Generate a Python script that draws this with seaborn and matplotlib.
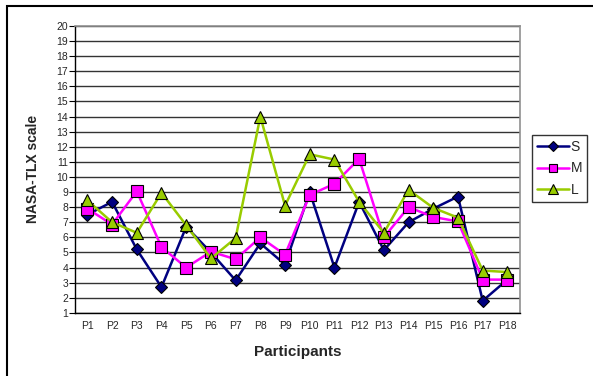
import numpy as np
import pandas as pd
import seaborn as sns
import matplotlib.pyplot as plt
from matplotlib.patches import Rectangle

participants = ["P%d" % i for i in range(1, 19)]
s_vals = [7.5, 8.35, 5.2, 2.7, 6.7, 5.0, 3.15, 5.6, 4.2, 9.0, 4.0, 8.35, 5.15, 7.0, 7.9, 8.7, 1.8, 3.2]
m_vals = [7.9, 6.85, 9.05, 5.35, 4.0, 5.05, 4.55, 6.0, 4.85, 8.8, 9.55, 11.2, 6.0, 8.0, 7.35, 7.05, 3.2, 3.2]
l_vals = [8.45, 7.0, 6.3, 8.95, 6.8, 4.6, 5.95, 14.0, 8.1, 11.5, 11.15, 8.35, 6.3, 9.15, 7.95, 7.3, 3.8, 3.7]
series = ["S", "M", "L"]

df = pd.DataFrame({
    "x": list(range(18)) * 3,
    "value": s_vals + m_vals + l_vals,
    "series": ["S"] * 18 + ["M"] * 18 + ["L"] * 18,
})

sns.set_style("white")
plt.rcParams["font.family"] = ["Liberation Sans", "DejaVu Sans"]

fig = plt.figure(figsize=(5.93, 3.76), dpi=100)
ax = fig.add_axes([0.1265, 0.168, 0.75, 0.763])

palette = {"S": "#000080", "M": "#FF00FF", "L": "#99CC00"}
markers = {"S": "D", "M": "s", "L": "^"}
sizes = {"S": 6, "M": 8, "L": 9}
for name in series:
    sub = df[df["series"] == name]
    sns.lineplot(data=sub, x="x", y="value", ax=ax, color=palette[name],
                 marker=markers[name], markersize=sizes[name], markeredgecolor="black",
                 markeredgewidth=0.8, linewidth=1.8, label=name)

ax.set_xlim(-0.5, 17.5)
ax.set_ylim(1, 20)
ax.set_yticks(range(1, 21))
ax.set_xticks(range(18))
ax.set_xticklabels(participants)
ax.set_xticks(np.arange(-0.5, 18, 1), minor=True)
ax.tick_params(axis="x", which="major", length=0, labelsize=7.5, pad=6)
ax.tick_params(axis="x", which="minor", length=4, width=0.8, direction="out", color="black")
ax.tick_params(axis="y", length=4, width=0.8, direction="out", labelsize=7.5, pad=1, color="black", left=True)
ax.grid(axis="y", color="#333333", linewidth=1.0)
ax.set_axisbelow(True)
for side in ["top", "right"]:
    ax.spines[side].set_color("#909090")
    ax.spines[side].set_linewidth(1.2)
for side in ["left", "bottom"]:
    ax.spines[side].set_color("black")
    ax.spines[side].set_linewidth(1.0)

ax.set_xlabel("Participants", fontsize=11, fontweight="bold", labelpad=10)
ax.set_ylabel("NASA-TLX scale", fontsize=10, fontweight="bold", labelpad=12)

handles, labels = ax.get_legend_handles_labels()
leg = ax.legend(handles, labels, loc="upper left", bbox_to_anchor=(0.897, 0.641),
                bbox_transform=fig.transFigure, frameon=True, fancybox=False,
                fontsize=10, handlelength=2.3, borderpad=0.35, labelspacing=0.55,
                handletextpad=0.15, borderaxespad=0, markerscale=0.8)
leg.get_frame().set_edgecolor("black")
leg.get_frame().set_linewidth(1.0)

fig.patches.append(Rectangle((7 / 593, -0.05), 1.1, 1 - 6 / 376 + 0.05, transform=fig.transFigure,
                             fill=False, edgecolor="black", linewidth=1.5))

fig.savefig("out.png", dpi=100)
